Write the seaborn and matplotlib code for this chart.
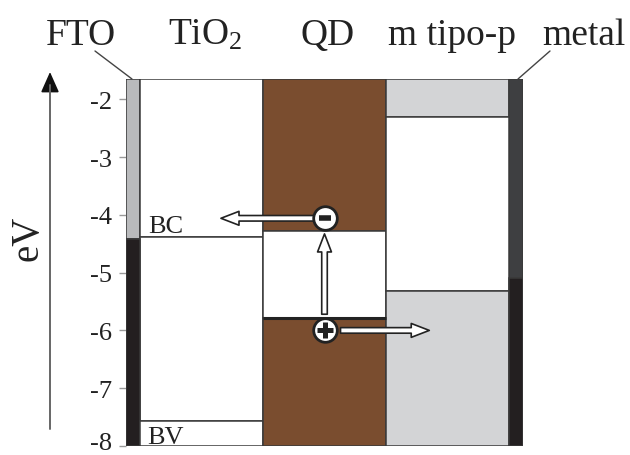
import numpy as np
import pandas as pd
import matplotlib.pyplot as plt
import matplotlib.transforms as mtransforms
import seaborn as sns

# capas de la celda y niveles de energia (eV)
capas = ["FTO", "TiO$_2$", "QD", "m tipo-p", "metal"]
anchos = [0.11, 1.0, 1.0, 1.0, 0.11]
nivel_sup = [-4.42, -4.38, -4.28, -2.31, -5.10]   # BC / LUMO / nivel de Fermi
nivel_inf = [-4.42, -7.57, -5.78, -5.32, -5.10]   # BV / HOMO
color_sup = ["#b9babc", "white", "#7a4d2f", "#d3d4d6", "#3e3f41"]
color_inf = ["#231f20", "white", "#7a4d2f", "#d3d4d6", "#231f20"]
yticks = [-2, -3, -4, -5, -6, -7, -8]
y_min, y_max = -8, -1.65

sns.set_theme(style="white")
plt.rcParams["font.family"] = ["Liberation Serif", "DejaVu Serif"]
plt.rcParams["mathtext.fontset"] = "custom"
plt.rcParams["mathtext.rm"] = "Liberation Serif"
plt.rcParams["mathtext.it"] = "Liberation Serif:italic"

W, H = 630, 456
fig = plt.figure(figsize=(W / 100, H / 100), dpi=100)
ax = fig.add_axes([126 / W, 1 - 447 / H, (523 - 126) / W, (447 - 80) / H])

df = pd.DataFrame({"capa": capas, "ancho": anchos, "sup": nivel_sup, "inf": nivel_inf,
                   "c_sup": color_sup, "c_inf": color_inf})
df["x0"] = np.concatenate([[0], np.cumsum(df["ancho"])[:-1]])
edge = "#3a3a3a"

# bloques: banda superior, hueco y banda inferior
ax.bar(df["x0"], y_max - df["sup"], bottom=df["sup"], width=df["ancho"], align="edge",
       color=df["c_sup"], edgecolor=edge, linewidth=1.1)
ax.bar(df["x0"], df["sup"] - df["inf"], bottom=df["inf"], width=df["ancho"], align="edge",
       color="white", edgecolor=edge, linewidth=1.1)
ax.bar(df["x0"], df["inf"] - y_min, bottom=y_min, width=df["ancho"], align="edge",
       color=df["c_inf"], edgecolor=edge, linewidth=1.1)

# linea gruesa en el HOMO del QD
qd = df.iloc[2]
ax.hlines(qd["inf"], qd["x0"], qd["x0"] + qd["ancho"], color="#222", lw=2.2, zorder=3)

ax.set_xlim(0, df["ancho"].sum())
ax.set_ylim(y_min, y_max)
ax.set_xticks([])
ax.set_yticks(yticks)
ax.set_yticklabels([f"-{abs(t)}" for t in yticks], fontsize=19, color="#222")
ax.tick_params(axis="y", direction="out", length=5, width=1, color="#999", pad=5, left=True)
# el -8 queda pegado al borde inferior: subirlo un poco
ultimo = ax.get_yticklabels()[-1]
ultimo.set_transform(ultimo.get_transform() +
                     mtransforms.ScaledTranslation(0, 5 / 100, fig.dpi_scale_trans))
for s in ax.spines.values():
    s.set_visible(False)

# BC y BV
tio = df.iloc[1]
ax.text(tio["x0"] + 0.07, tio["sup"] + 0.09, "BC", fontsize=19, va="baseline", color="#222")
ax.text(tio["x0"] + 0.06, y_min + 0.05, "BV", fontsize=19, va="baseline", color="#222")

# electron y hueco
xq = qd["x0"] + 0.5
y_e, y_h = -4.06, -6.0
flecha = dict(arrowstyle="simple,head_length=1.3,head_width=1.0,tail_width=0.4",
              fc="white", ec="#222", lw=1.2, mutation_scale=10, shrinkA=0, shrinkB=0)
ax.annotate("", xy=(tio["x0"] + 0.66, y_e), xytext=(xq - 0.08, y_e), arrowprops=flecha, zorder=4)
ax.annotate("", xy=(xq, -4.33), xytext=(xq, qd["inf"] + 0.06), arrowprops=flecha, zorder=4)
ax.annotate("", xy=(qd["x0"] + 1.35, y_h), xytext=(xq + 0.13, y_h), arrowprops=flecha, zorder=4)
ax.plot([xq, xq], [y_e, y_h], ls="none", marker="o", ms=17, mfc="white", mec="#222", mew=2, zorder=5)
ax.plot(xq, y_e, marker="_", ms=8.5, mew=4, color="#222", zorder=6)
ax.plot(xq, y_h, marker="+", ms=11, mew=3.6, color="#222", zorder=6)

# rotulos superiores
for lab, xc in zip(capas, [81, 205, 328, 452, 584]):
    fig.text(xc / W, 1 - 45 / H, lab, fontsize=27, ha="center", va="baseline", color="#222")
fig.add_artist(plt.Line2D([95 / W, 132 / W], [1 - 52 / H, 1 - 80 / H], color="#444", lw=1))
fig.add_artist(plt.Line2D([550 / W, 518 / W], [1 - 52 / H, 1 - 80 / H], color="#444", lw=1))

# eje de energia
fig.add_artist(plt.Line2D([50 / W, 50 / W], [1 - 430 / H, 1 - 86 / H], color="#666", lw=1.4))
ax.annotate("", xy=(50 / W, 1 - 73 / H), xytext=(50 / W, 1 - 90 / H), xycoords="figure fraction",
            arrowprops=dict(arrowstyle="-|>,head_length=0.9,head_width=0.4", color="#111",
                            lw=1.2, mutation_scale=14, shrinkA=0, shrinkB=0))
fig.text(28 / W, 1 - 238 / H, "eV", fontsize=28, rotation=90, ha="center", va="center", color="#222")

fig.savefig("out.png", dpi=100)
